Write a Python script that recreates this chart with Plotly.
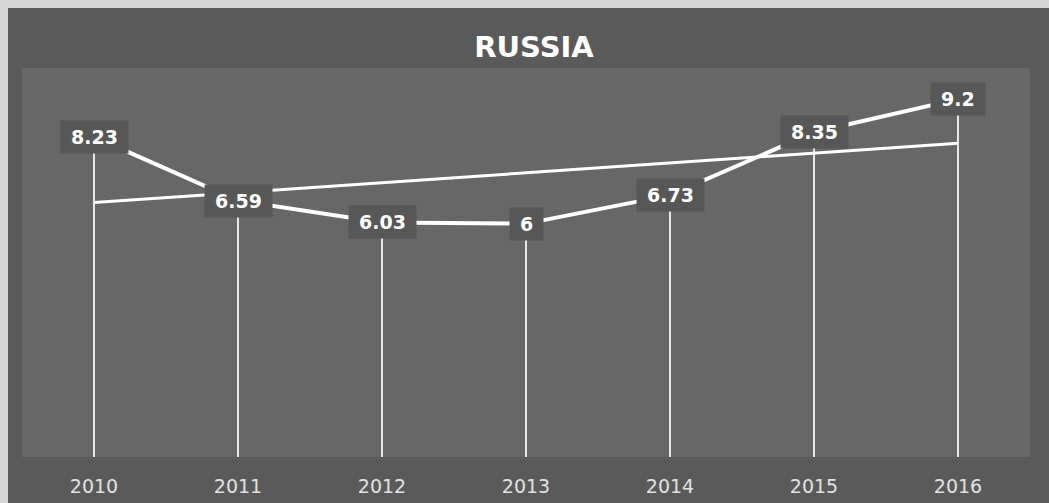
import numpy as np
import plotly.graph_objects as go

# Yearly values for Russia
years = ["2010", "2011", "2012", "2013", "2014", "2015", "2016"]
values = [8.23, 6.59, 6.03, 6.0, 6.73, 8.35, 9.2]
value_labels = ["8.23", "6.59", "6.03", "6", "6.73", "8.35", "9.2"]

W, H = 1049, 503
ML, MR, MT, MB = 22, 19, 68, 46
PW, PH = W - ML - MR, H - MT - MB

OUTER = "#5a5a5a"
INNER = "#676767"
BOX = "#575757"
EDGE = "#d4d4d4"

fig = go.Figure()

# Drop lines from each point down to the category axis
dx, dy = [], []
for yr, v in zip(years, values):
    dx += [yr, yr, None]
    dy += [0, v, None]
fig.add_trace(go.Scatter(x=dx, y=dy, mode="lines",
                         line=dict(color="rgba(255,255,255,0.85)", width=2),
                         hoverinfo="skip", showlegend=False))

# Linear trend over the series
idx = np.arange(1, len(values) + 1)
slope, intercept = np.polyfit(idx, values, 1)
trend = slope * idx + intercept
fig.add_trace(go.Scatter(x=years, y=trend, mode="lines",
                         line=dict(color="white", width=3),
                         hoverinfo="skip", showlegend=False))

# Main series
fig.add_trace(go.Scatter(x=years, y=values, mode="lines",
                         line=dict(color="white", width=4),
                         showlegend=False))

# Value labels in dark boxes centred on the points
# (category axis: annotations are placed by category index)
FS = 19
for i, (v, lab) in enumerate(zip(values, value_labels)):
    n_dig = sum(c.isdigit() for c in lab)
    n_dot = lab.count(".")
    w = n_dig * 0.696 * FS + n_dot * 0.38 * FS + 14
    fig.add_annotation(x=i, y=v, text=lab, showarrow=False,
                       xanchor="center", yanchor="middle",
                       font=dict(family="DejaVu Sans", size=FS, color="white", weight="bold"),
                       bgcolor=BOX, width=w, height=26, borderpad=3)

def px_x(p):
    return (p - ML) / PW

def px_y(p):
    return (H - MB - p) / PH

# Light frame on the left and top edges
fig.add_shape(type="rect", xref="paper", yref="paper", layer="above",
              x0=px_x(0), x1=px_x(8), y0=px_y(H), y1=px_y(0),
              fillcolor=EDGE, line=dict(width=0))
fig.add_shape(type="rect", xref="paper", yref="paper", layer="above",
              x0=px_x(0), x1=px_x(W), y0=px_y(8), y1=px_y(0),
              fillcolor=EDGE, line=dict(width=0))

fig.update_layout(
    width=W, height=H,
    margin=dict(l=ML, r=MR, t=MT, b=MB, autoexpand=False),
    paper_bgcolor=OUTER,
    plot_bgcolor=INNER,
    title=dict(text="<b>RUSSIA</b>", x=534 / W, xanchor="center",
               y=1 - 47 / H, yanchor="middle",
               font=dict(family="DejaVu Sans", size=29, color="white")),
    xaxis=dict(type="category", range=[-0.5, 6.5], showgrid=False,
               zeroline=False, showline=False, ticks="", automargin=False,
               ticklabelstandoff=16,
               tickfont=dict(family="DejaVu Sans", size=19, color="#e2e2e2")),
    yaxis=dict(range=[0, 10], showgrid=False, zeroline=False,
               showticklabels=False, ticks="", showline=False),
    showlegend=False,
)

fig.write_html("out.html")
